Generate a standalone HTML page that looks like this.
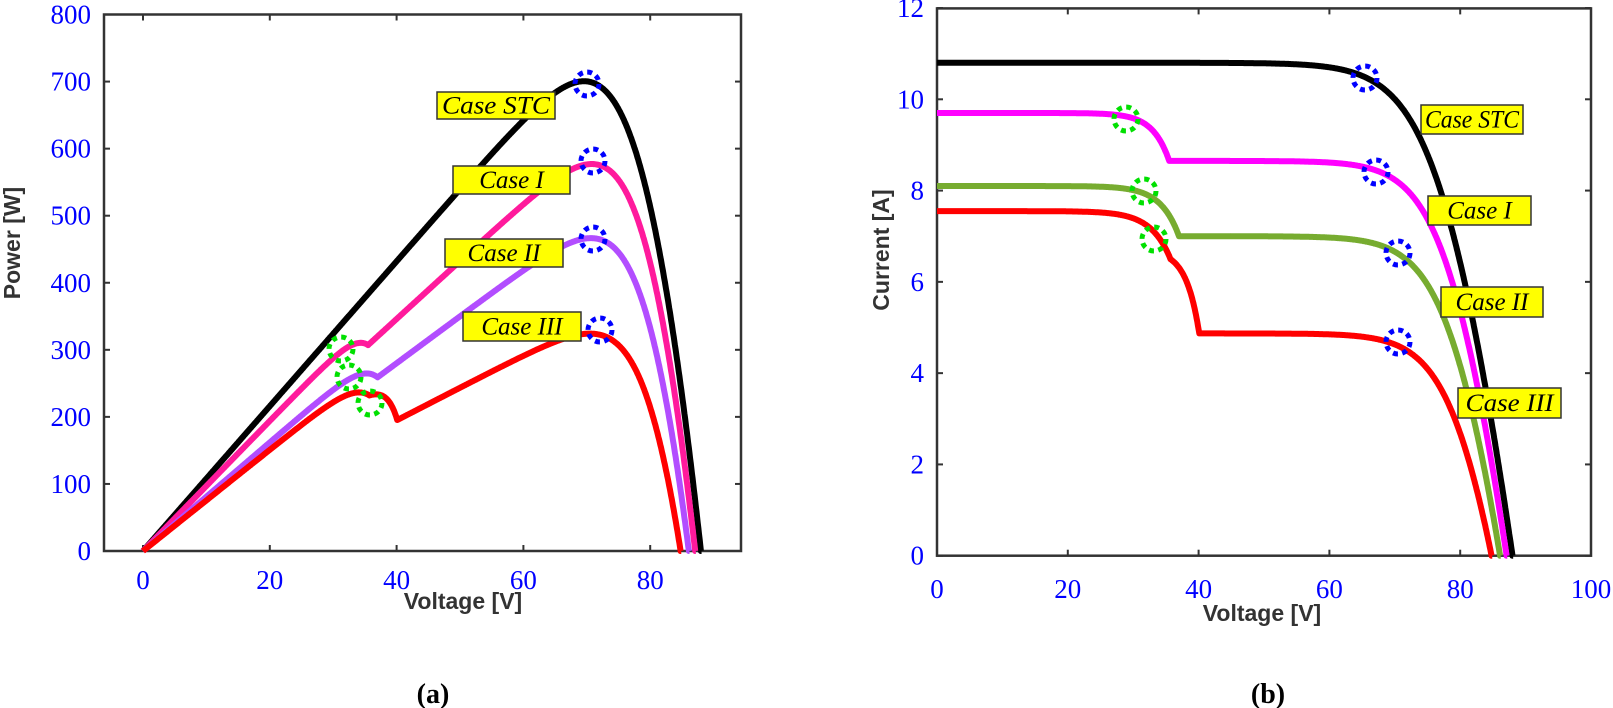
<!DOCTYPE html>
<html><head><meta charset="utf-8"><style>
html,body{margin:0;padding:0;background:#fff;}
svg{display:block;}
</style></head><body>
<svg id="s" width="1613" height="708" xmlns="http://www.w3.org/2000/svg">
<rect width="1613" height="708" fill="#fff"/>
<g id="curves"></g>
<g font-family="Liberation Serif, serif" font-size="27" fill="#0000ff" id="ticks"></g>
<g font-family="Liberation Sans, sans-serif" font-weight="bold" fill="#333" font-size="23">
<text x="463" y="609" text-anchor="middle">Voltage [V]</text>
<text x="1262" y="621" text-anchor="middle">Voltage [V]</text>
<text transform="translate(20,243) rotate(-90)" text-anchor="middle">Power [W]</text>
<text transform="translate(889,250) rotate(-90)" text-anchor="middle">Current [A]</text>
</g>
<g font-family="Liberation Serif, serif" font-weight="bold" font-size="28" fill="#000">
<text x="433" y="703" text-anchor="middle">(a)</text>
<text x="1268" y="703" text-anchor="middle">(b)</text>
</g>
<g id="labels" font-family="Liberation Serif, serif" font-style="italic" font-size="25" fill="#000"></g>
</svg>
<script>
const NS="http://www.w3.org/2000/svg";
function el(tag,attrs,parent,txt){const e=document.createElementNS(NS,tag);for(const k in attrs)e.setAttribute(k,attrs[k]);if(txt!==undefined)e.textContent=txt;parent.appendChild(e);return e;}
const curves=document.getElementById('curves'),ticks=document.getElementById('ticks'),labels=document.getElementById('labels');
function knee(V,Isc,Voc,a){a=a||4;const Rs=0.6;const I0=Isc/(Math.exp(Voc/a)-1);
 let lo=-1,hi=Isc;for(let i=0;i<50;i++){const m=(lo+hi)/2;const f=Isc-I0*(Math.exp((V+m*Rs)/a)-1)-m;if(f>0)lo=m;else hi=m;}return (lo+hi)/2;}
const cases={
 STC:V=>knee(V,10.8,88,4.6),
 I:V=>V<35.5?9.7-1.05*Math.exp((V-35.5)/2.5):knee(V,8.65,87.1),
 II:V=>V<37?8.1-1.1*Math.exp((V-37)/2.8):knee(V,7.0,86.1),
 III:V=>V<35.7?7.55-1.05*Math.exp((V-35.7)/3):(V<40.1?6.7-1.83*Math.exp((V-40.1)/2):knee(V,4.87,84.8))
};
function path(fn,map,col,w){let d='';for(let V=0;V<=90;V+=0.1){const I=fn(V);if(I<0){d+='L'+map(V,0).join(',');break;}const p=map(V,I);d+=(d?'L':'M')+p[0].toFixed(1)+','+p[1].toFixed(1);}
 el('path',{d:d,fill:'none',stroke:col,'stroke-width':w,'stroke-linejoin':'round'},curves);}
const mapL=(V,I)=>[143+V*6.34,551-V*I*0.6706];
const mapR=(V,I)=>[937+V*6.54,555.7-I*45.64];
function box(x0,y0,x1,y1){el('rect',{x:x0,y:y0,width:x1-x0,height:y1-y0,fill:'none',stroke:'#333','stroke-width':2.5},curves);}
box(104,14.5,741,551);box(937,8.4,1591,555.7);
for(let v=0;v<=80;v+=20){const x=143+v*6.34;el('line',{x1:x,y1:551,x2:x,y2:545,stroke:'#333','stroke-width':2},curves);el('line',{x1:x,y1:14.5,x2:x,y2:20.5,stroke:'#333','stroke-width':2},curves);el('text',{x:x,y:589,'text-anchor':'middle'},ticks,v);}
for(let p=0;p<=800;p+=100){const y=551-p*0.6706;el('line',{x1:104,y1:y,x2:110,y2:y,stroke:'#333','stroke-width':2},curves);el('line',{x1:741,y1:y,x2:735,y2:y,stroke:'#333','stroke-width':2},curves);el('text',{x:91,y:y+9,'text-anchor':'end'},ticks,p);}
for(let v=0;v<=100;v+=20){const x=937+v*6.54;el('line',{x1:x,y1:555.7,x2:x,y2:549.7,stroke:'#333','stroke-width':2},curves);el('line',{x1:x,y1:8.4,x2:x,y2:14.4,stroke:'#333','stroke-width':2},curves);el('text',{x:x,y:598,'text-anchor':'middle'},ticks,v);}
for(let i=0;i<=12;i+=2){const y=555.7-i*45.64;el('line',{x1:937,y1:y,x2:943,y2:y,stroke:'#333','stroke-width':2},curves);el('line',{x1:1591,y1:y,x2:1585,y2:y,stroke:'#333','stroke-width':2},curves);el('text',{x:924,y:y+9,'text-anchor':'end'},ticks,i);}
path(cases.STC,mapL,'#000',6);path(cases.I,mapL,'#ff1a9c',6);path(cases.II,mapL,'#b24dff',6);path(cases.III,mapL,'#ff0000',6);
path(cases.STC,mapR,'#000',6);path(cases.I,mapR,'#ff00ff',6);path(cases.II,mapR,'#77ac30',6);path(cases.III,mapR,'#ff0000',6);
function circ(x,y,c){el('circle',{cx:x,cy:y,r:12,fill:'none',stroke:c,'stroke-width':5,'stroke-dasharray':'5 4.4'},curves);}
[[587,84],[593,161],[593,239],[600,330],[1365,78],[1376,172],[1398,253],[1398,342]].forEach(p=>circ(p[0],p[1],'#0000ff'));
[[341,349],[349,377],[370,403],[1126,119],[1144,191],[1154,239]].forEach(p=>circ(p[0],p[1],'#00e000'));
function lab(x0,y0,x1,y1,t,cond){el('rect',{x:x0,y:y0,width:x1-x0,height:y1-y0,fill:'#ffff00',stroke:'#333','stroke-width':1.5},labels);
 const a={x:(x0+x1)/2,y:(y0+y1)/2+8,'text-anchor':'middle'};if(cond){a.textLength=cond;a.lengthAdjust='spacingAndGlyphs';}el('text',a,labels,t);}
lab(437,92,555,119,'Case STC',108);lab(453,166,570,194,'Case I');lab(445,239,563,267,'Case II');lab(463,312,581,341,'Case III');
lab(1421,105,1523,134,'Case STC',94);lab(1428,196,1531,225,'Case I');lab(1441,287,1543,317,'Case II');lab(1458,388,1561,418,'Case III',88);
</script>
</body></html>
